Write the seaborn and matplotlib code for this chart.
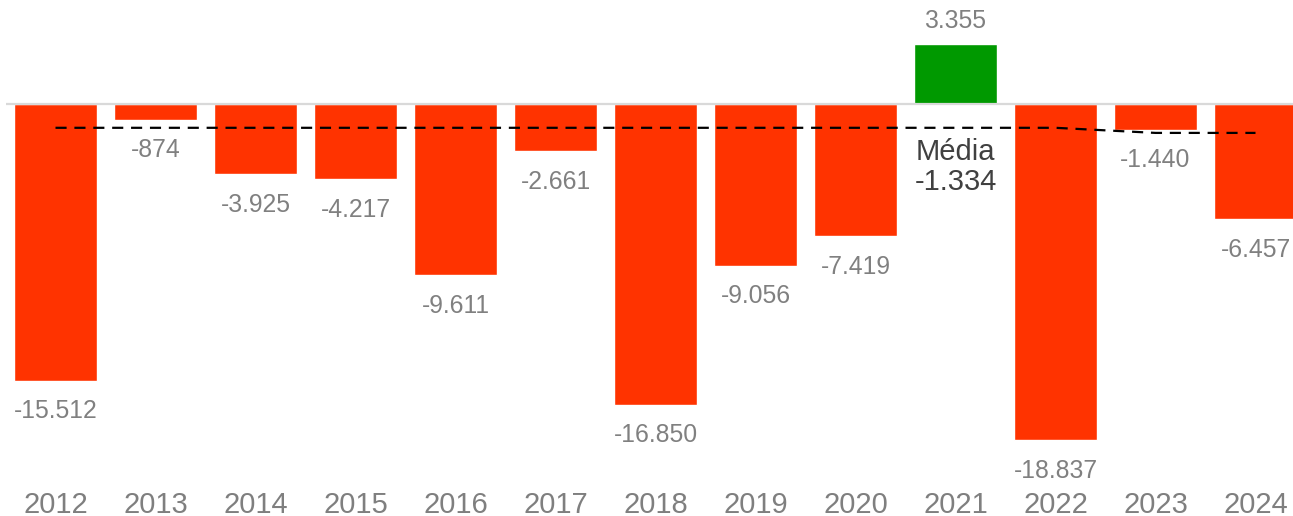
import numpy as np
import pandas as pd
import matplotlib
matplotlib.use('Agg')
import matplotlib.pyplot as plt
import seaborn as sns

# Data
years = ['2012', '2013', '2014', '2015', '2016', '2017', '2018',
         '2019', '2020', '2021', '2022', '2023', '2024']
saldo = [-15512, -874, -3925, -4217, -9611, -2661, -16850,
         -9056, -7419, 3355, -18837, -1440, -6457]
media = -1334
# dashed reference line, one value per year (drops a little at the end)
media_line = [-1334, -1334, -1334, -1334, -1334, -1334, -1334,
              -1334, -1334, -1334, -1334, -1620, -1620]

sns.set_style('white')
plt.rcParams['font.family'] = ['Liberation Sans', 'DejaVu Sans']

df = pd.DataFrame({'ano': years, 'saldo': saldo})
cores = ['#009900' if v > 0 else '#FF3300' for v in saldo]

fig = plt.figure(figsize=(12.93, 5.16), dpi=100)
ax = fig.add_axes([0, 0.0897, 1, 0.9103])

sns.barplot(data=df, x='ano', y='saldo', hue='ano', palette=cores,
            legend=False, width=0.83, saturation=1, ax=ax)

# zero line
ax.hlines(0, -0.5, len(years) - 0.5, color='#d9d9d9', lw=1.6, zorder=1)

# mean line
ax.plot(range(len(years)), media_line, color='black', lw=1.6,
        ls=(0, (5, 3.5)), zorder=3)

# value labels
for i, v in enumerate(saldo):
    txt = f'{v:,}'.replace(',', '.')
    if v >= 0:
        ax.annotate(txt, (i, v), xytext=(0, 8), textcoords='offset points',
                    ha='center', va='bottom', fontsize=17.8, color='#808080')
    else:
        ax.annotate(txt, (i, v), xytext=(0, -13.5), textcoords='offset points',
                    ha='center', va='top', fontsize=17.8, color='#808080')

media_txt = f'{media:,}'.replace(',', '.')
ax.annotate('Média\n' + media_txt, (years.index('2021'), media), xytext=(0, -7),
            textcoords='offset points', ha='center', va='top', fontsize=21,
            color='#404040', linespacing=1.1)

ax.set_xlim(-0.555, 12.375)
ax.set_ylim(-20500, 5830)
ax.set_xlabel('')
ax.set_ylabel('')
ax.set_yticks([])
ax.tick_params(axis='x', length=0, pad=15, labelsize=21, labelcolor='#7f7f7f')
for s in ax.spines.values():
    s.set_visible(False)

fig.savefig('out.png', dpi=100)
